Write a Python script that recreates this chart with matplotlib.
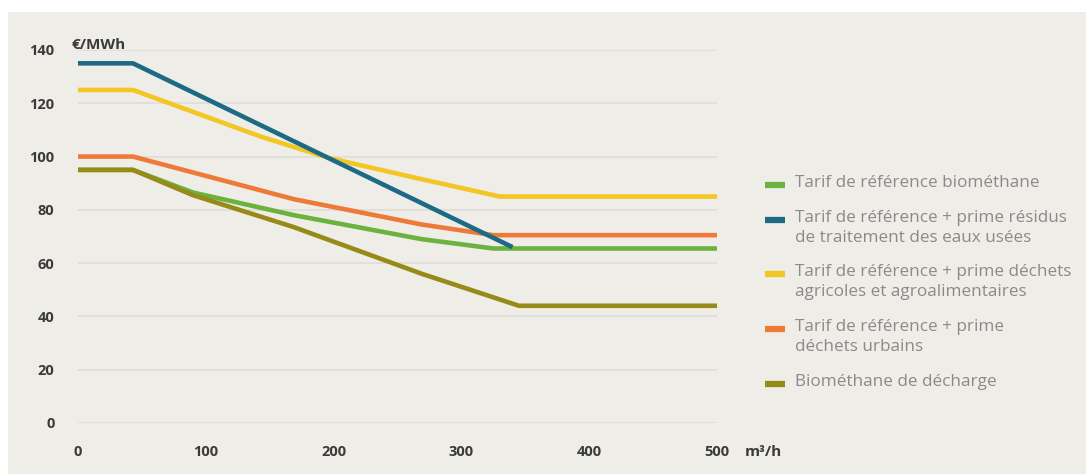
import matplotlib.pyplot as plt
from matplotlib.lines import Line2D

# debit (m3/h) and tariffs (EUR/MWh)
x_green = [0, 43, 90, 169, 269, 325, 500]
y_green = [95, 95, 86.5, 78, 69, 65.5, 65.5]

x_blue = [0, 43, 340]
y_blue = [135, 135, 66]

x_yellow = [0, 43, 143, 196, 269, 330, 500]
y_yellow = [125, 125, 107.5, 99.5, 91.5, 85, 85]

x_orange = [0, 43, 169, 269, 325, 500]
y_orange = [100, 100, 84, 74.5, 70.5, 70.5]

x_olive = [0, 43, 90, 169, 269, 345, 500]
y_olive = [95, 95, 85.5, 73.5, 56, 44, 44]

labels = [
    "Tarif de référence biométhane",
    "Tarif de référence + prime résidus\nde traitement des eaux usées",
    "Tarif de référence + prime déchets\nagricoles et agroalimentaires",
    "Tarif de référence + prime\ndéchets urbains",
    "Biométhane de décharge",
]
colors = ["#6cb23e", "#1d6a85", "#f2c623", "#ee7a3a", "#978a16"]
xticks = [0, 100, 200, 300, 400, 500]
yticks = [0, 20, 40, 60, 80, 100, 120, 140]

BG = "#efede8"
INK = "#3a3a3a"
W, H = 1086, 474

fig = plt.figure(figsize=(W / 100, H / 100), dpi=100)
fig.patch.set_facecolor("white")
fig.patches.append(plt.Rectangle((8 / W, 0), 1, 1 - 12 / H, transform=fig.transFigure,
                                 facecolor=BG, edgecolor="none", zorder=-10))

ax = fig.add_axes([78 / W, 51 / H, (717 - 78) / W, (423 - 50) / H])
ax.set_facecolor("none")
ax.set_xlim(0, 500)
ax.set_ylim(0, 140)
for s in ax.spines.values():
    s.set_visible(False)
ax.set_yticks(yticks)
ax.set_xticks(xticks)
ax.tick_params(length=0)
ax.tick_params(axis="y", pad=17)
ax.tick_params(axis="x", pad=16)
for lab in ax.get_xticklabels() + ax.get_yticklabels():
    lab.set_fontfamily("Open Sans")
    lab.set_fontweight("bold")
    lab.set_fontsize(10.5)
    lab.set_color(INK)
ax.grid(axis="y", color="#dfddd7", lw=1.2)
ax.set_axisbelow(True)

series = [(x_green, y_green), (x_blue, y_blue), (x_yellow, y_yellow),
          (x_orange, y_orange), (x_olive, y_olive)]
order = [2, 3, 0, 4, 1]
for i in order:
    xs, ys = series[i]
    ax.plot(xs, ys, color=colors[i], lw=3.3, solid_capstyle="butt",
            solid_joinstyle="round", zorder=3)

fig.text(72 / W, 1 - 45 / H, "€/MWh", ha="left", va="center",
         fontfamily="Open Sans", fontweight="bold", fontsize=11, color=INK)
fig.text(745 / W, 1 - 452 / H, "m³/h", ha="left", va="center",
         fontfamily="Open Sans", fontweight="bold", fontsize=11, color=INK)

# legend drawn by hand: handle beside the first line of each label
leg_y = [185, 220, 274, 329, 384]
for lab, c, yy in zip(labels, colors, leg_y):
    yf = 1 - yy / H
    fig.add_artist(Line2D([765 / W, 785 / W], [yf, yf], color=c, lw=4.5,
                          solid_capstyle="butt", transform=fig.transFigure))
    fig.text(795 / W, yf + 10 / H, lab, ha="left", va="top", fontfamily="Open Sans",
             fontsize=12.3, color="#8a8a8a", linespacing=1.3)

fig.savefig("out.png", dpi=100)
